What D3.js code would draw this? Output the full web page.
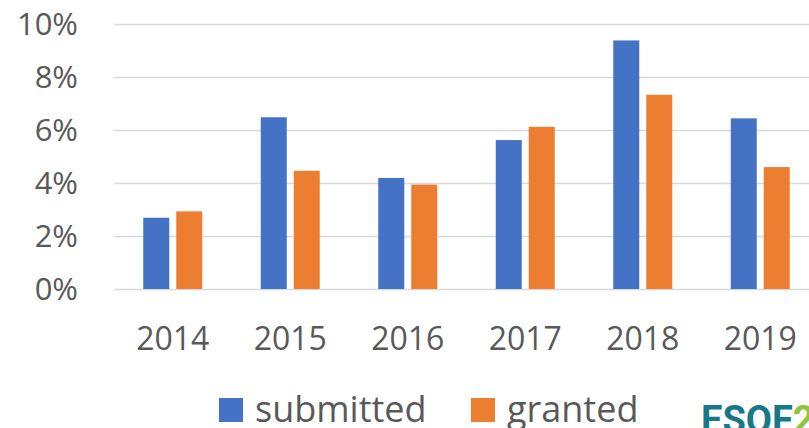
<!DOCTYPE html>
<html lang="en">

<head>
  <meta charset="UTF-8">
  <title>submitted vs granted</title>
  <script src="https://cdn.jsdelivr.net/npm/d3@7"></script>
  <style>
    body {
      margin: 0;
      background: #fff;
    }

    text {
      font-family: "Open Sans", sans-serif;
      fill: #595959;
    }

    .grid .domain {
      display: none;
    }

    .grid line {
      stroke: #d9d9d9;
      stroke-width: 1.5;
    }
  </style>
</head>

<body>
  <div id="container"></div>

  <script>
    const svg_width = 809;
    const svg_height = 428;

    // data
    var years = ['2014', '2015', '2016', '2017', '2018', '2019'];
    var series = ['submitted', 'granted'];
    var submitted = [0.0269, 0.0648, 0.0419, 0.0562, 0.0938, 0.0644];
    var granted = [0.0293, 0.0446, 0.0394, 0.0612, 0.0733, 0.0460];
    var y_ticks = [0, 0.02, 0.04, 0.06, 0.08, 0.10];
    var colors = ['#4472C4', '#ED7D31'];

    var dataset = years.map(function (y, i) {
      return { year: y, submitted: submitted[i], granted: granted[i] };
    });

    var plot_left = 114;
    var plot_top = 24;
    var plot_bottom = 289;
    var step = 117.5;

    var svg = d3.select('#container')
      .append('svg')
      .attr('width', svg_width)
      .attr('height', svg_height);

    // x scale (plot runs past the right edge, like the source)
    var x_scale = d3.scaleBand()
      .domain(years)
      .range([plot_left, plot_left + step * years.length]);

    // bars inside each year: 26px wide, 7px gap
    var s = 33;
    var x_inner = d3.scaleBand()
      .domain(series)
      .range([0, x_scale.bandwidth()])
      .paddingInner(7 / s)
      .paddingOuter((x_scale.bandwidth() / s - 2 + 7 / s) / 2);

    var y_scale = d3.scaleLinear()
      .domain([0, 0.1])
      .range([plot_bottom, plot_top]);

    // gridlines
    svg.append('g')
      .attr('class', 'grid')
      .attr('transform', 'translate(' + plot_left + ',0)')
      .call(d3.axisLeft(y_scale)
        .tickValues(y_ticks)
        .tickSize(-(svg_width - plot_left))
        .tickFormat(''));

    // y labels
    svg.append('g')
      .selectAll('text')
      .data(y_ticks)
      .enter()
      .append('text')
      .attr('x', 78)
      .attr('y', function (d) {
        return y_scale(d) + 11;
      })
      .attr('text-anchor', 'end')
      .style('font-size', '31px')
      .text(d3.format('.0%'));

    // bars
    svg.append('g')
      .selectAll('g')
      .data(dataset)
      .enter()
      .append('g')
      .attr('transform', function (d) {
        return 'translate(' + x_scale(d.year) + ',0)';
      })
      .selectAll('rect')
      .data(function (d) {
        return series.map(function (k) {
          return { key: k, value: d[k] };
        });
      })
      .enter()
      .append('rect')
      .attr('x', function (d) {
        return x_inner(d.key);
      })
      .attr('y', function (d) {
        return y_scale(d.value);
      })
      .attr('width', x_inner.bandwidth())
      .attr('height', function (d) {
        return plot_bottom - y_scale(d.value);
      })
      .attr('fill', function (d, i) {
        return colors[i];
      });

    // x labels
    svg.append('g')
      .selectAll('text')
      .data(years)
      .enter()
      .append('text')
      .attr('x', function (d) {
        return x_scale(d) + x_scale.bandwidth() / 2;
      })
      .attr('y', 350)
      .attr('text-anchor', 'middle')
      .style('font-size', '32px')
      .text(function (d) {
        return d;
      });

    // legend
    var legend_x = [219, 471];
    var legend = svg.append('g')
      .selectAll('g')
      .data(series)
      .enter()
      .append('g')
      .attr('transform', function (d, i) {
        return 'translate(' + legend_x[i] + ',398)';
      });
    legend.append('rect')
      .attr('width', 24)
      .attr('height', 24)
      .attr('fill', function (d, i) {
        return colors[i];
      });
    legend.append('text')
      .attr('x', 36)
      .attr('y', 24)
      .style('font-size', '36px')
      .text(function (d) {
        return d;
      });

    // logo in the corner, cut off by the frame
    var logo = svg.append('text')
      .attr('x', 701)
      .attr('y', 433)
      .style('font-size', '38px')
      .style('font-weight', 'bold')
      .style('font-family', 'Roboto, sans-serif');
    logo.append('tspan').style('fill', '#17788a').text('ESOF');
    logo.append('tspan').style('fill', '#8cc63f').text('2');
  </script>

</body>

</html>
